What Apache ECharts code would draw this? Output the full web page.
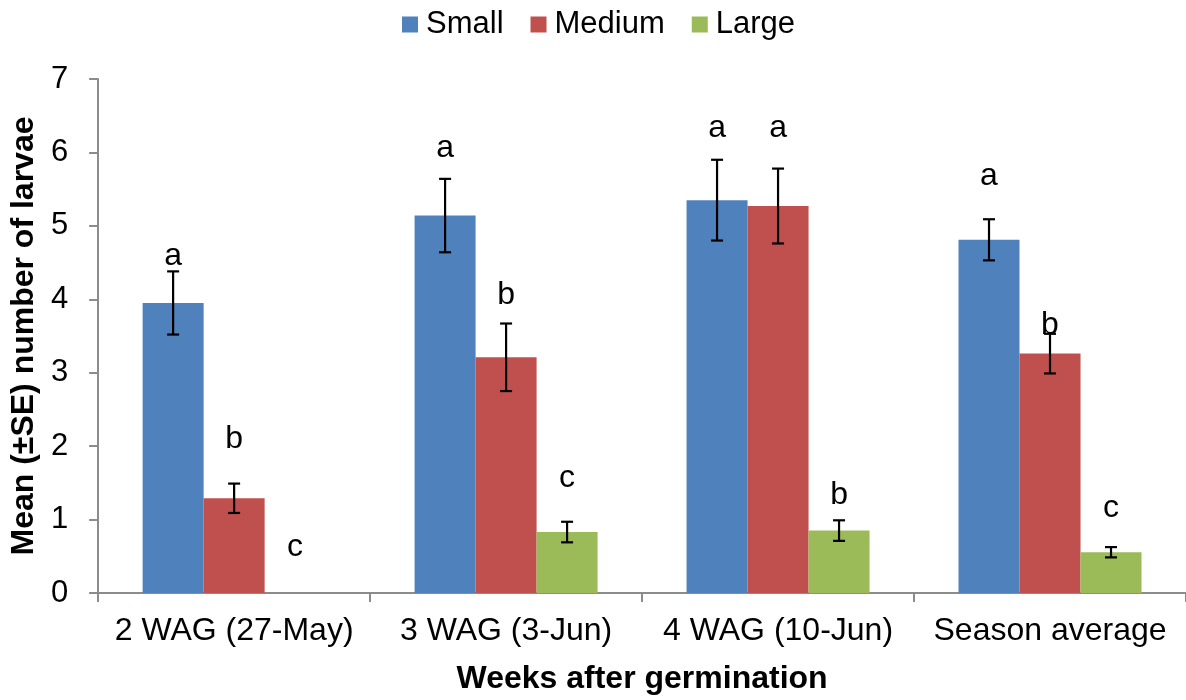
<!DOCTYPE html>
<html>
<head>
<meta charset="utf-8">
<script src="https://cdn.jsdelivr.net/npm/echarts@6/dist/echarts.min.js"></script>
<style>
html,body{margin:0;padding:0;background:#fff;}
#chart{width:1186px;height:700px;}
</style>
</head>
<body>
<div id="chart"></div>
<script>
const categories = ['2 WAG (27-May)', '3 WAG (3-Jun)', '4 WAG (10-Jun)', 'Season average'];
const seriesNames = ['Small', 'Medium', 'Large'];
const smallMean = [3.95, 5.14, 5.35, 4.81];
const smallSE = [0.43, 0.50, 0.55, 0.28];
const mediumMean = [1.29, 3.21, 5.27, 3.26];
const mediumSE = [0.20, 0.46, 0.51, 0.27];
const largeMean = [0, 0.83, 0.85, 0.555];
const largeSE = [0, 0.14, 0.14, 0.07];
const smallLetters = ['a', 'a', 'a', 'a'];
const mediumLetters = ['b', 'b', 'a', 'b'];
const largeLetters = ['c', 'c', 'b', 'c'];
const smallLetterAt = [4.59, 6.06, 6.33, 5.67];
const mediumLetterAt = [2.10, 4.05, 6.33, 3.65];
const largeLetterAt = [0.62, 1.57, 1.33, 1.16];

const colors = ['#4F81BD', '#C0504D', '#9BBB59'];
const BAR_W = 61;
const FONT = '"Liberation Sans", Arial, sans-serif';

const groups = [
  {mean: smallMean, se: smallSE, letters: smallLetters, at: smallLetterAt},
  {mean: mediumMean, se: mediumSE, letters: mediumLetters, at: mediumLetterAt},
  {mean: largeMean, se: largeSE, letters: largeLetters, at: largeLetterAt}
];

const series = [];
groups.forEach((g, i) => {
  series.push({
    name: seriesNames[i],
    type: 'bar',
    data: g.mean,
    barWidth: BAR_W,
    barGap: '0%',
    itemStyle: {color: colors[i]},
    z: 2
  });
});
groups.forEach((g, i) => {
  const offset = (i - 1) * BAR_W;
  series.push({
    name: seriesNames[i] + ' err',
    type: 'custom',
    coordinateSystem: 'cartesian2d',
    z: 10,
    silent: true,
    encode: {x: 0, y: 1},
    data: categories.map((c, k) => [k, g.mean[k], g.se[k], g.at[k]]),
    renderItem: function (params, api) {
      const k = api.value(0), m = api.value(1), s = api.value(2), at = api.value(3);
      const base = api.coord([k, m]);
      const x = base[0] + offset;
      const yTop = api.coord([k, m + s])[1];
      const yBot = api.coord([k, m - s])[1];
      const yL = api.coord([k, at])[1];
      const children = [];
      const st = {stroke: '#000', lineWidth: 2.2};
      if (s > 0) {
        children.push({type: 'line', shape: {x1: x, y1: yTop, x2: x, y2: yBot}, style: st});
        children.push({type: 'line', shape: {x1: x - 6, y1: yTop, x2: x + 6, y2: yTop}, style: st});
        children.push({type: 'line', shape: {x1: x - 6, y1: yBot, x2: x + 6, y2: yBot}, style: st});
      }
      children.push({
        type: 'text',
        style: {
          text: g.letters[params.dataIndex],
          x: x, y: yL,
          align: 'center', verticalAlign: 'middle',
          fill: '#000', font: '32px ' + FONT
        }
      });
      return {type: 'group', children: children};
    }
  });
});

const chart = echarts.init(document.getElementById('chart'), null, {renderer: 'canvas'});
chart.setOption({
  animation: false,
  backgroundColor: '#fff',
  textStyle: {fontFamily: FONT},
  legend: {
    data: seriesNames,
    top: 4,
    left: 397,
    itemWidth: 16,
    itemHeight: 16,
    itemGap: 27,
    icon: 'rect',
    textStyle: {fontSize: 31, color: '#000', fontFamily: FONT, padding: [0, 0, 0, 3]}
  },
  grid: {left: 95, top: 79, width: 1095, height: 517, containLabel: false},
  xAxis: {
    type: 'category',
    data: categories,
    name: 'Weeks after germination',
    nameLocation: 'middle',
    nameGap: 70,
    nameTextStyle: {fontSize: 32, fontWeight: 'bold', color: '#000', fontFamily: FONT},
    axisLine: {lineStyle: {color: '#8c8c8c', width: 2}},
    axisTick: {show: true, length: 9, alignWithLabel: false, lineStyle: {color: '#8c8c8c', width: 2}},
    axisLabel: {fontSize: 32, color: '#000', margin: 22, fontFamily: FONT, interval: 0},
    splitLine: {show: false}
  },
  yAxis: {
    type: 'value',
    min: 0, max: 7, interval: 1,
    name: 'Mean (±SE) number of larvae',
    nameLocation: 'middle',
    nameGap: 27,
    nameRotate: 90,
    nameTextStyle: {fontSize: 32, fontWeight: 'bold', color: '#000', fontFamily: FONT},
    axisLine: {show: true, lineStyle: {color: '#8c8c8c', width: 2}},
    axisTick: {show: true, length: 9, lineStyle: {color: '#8c8c8c', width: 2}},
    axisLabel: {fontSize: 31, color: '#000', margin: 30, fontFamily: FONT},
    splitLine: {show: false}
  },
  series: series
});
</script>
</body>
</html>
